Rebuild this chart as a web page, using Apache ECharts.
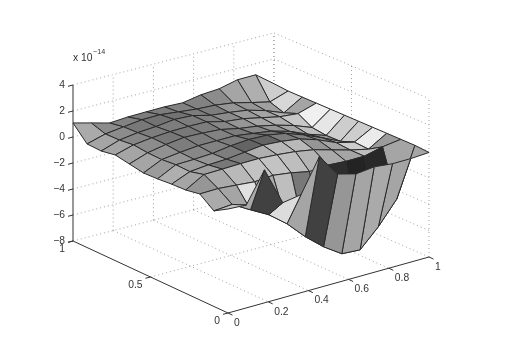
<!DOCTYPE html>
<html><head><meta charset="utf-8">
<style>html,body{margin:0;padding:0;background:#fff}#c{width:506px;height:349px}</style>
<script src="https://cdn.jsdelivr.net/npm/echarts@6/dist/echarts.min.js"></script></head>
<body><div id="c"></div>
<script>
const xTicks=[0,0.2,0.4,0.6,0.8,1];
const yTicks=[0,0.5,1];
const zTicks=[-8,-6,-4,-2,0,2,4];
const zRows=[
[1.08,.72,.35,.45,.48,.5,.45,.7,.8,1.13,1.15,.1],
[-.03,.37,.55,.73,.75,.6,.45,.38,.19,-.15,-.47,0],
[-.07,.4,.6,.7,.87,.8,.45,.3,.1,-.3,-.84,0],
[.13,.53,.7,.8,.83,.8,.45,.3,0,-.3,-.43,0],
[-.06,.42,.68,.85,.8,.7,.4,.2,-.1,-.5,-1.03,0],
[-.25,.4,.57,.7,.7,.7,.5,.3,-.1,-.7,-1.17,0],
[-.2,.5,.53,.6,.8,.9,.85,.6,.1,-.5,-1.15,0],
[-.1,.47,.6,.65,.8,.95,.85,.65,.2,-.4,-.75,0],
[-.05,.75,.77,.8,.8,.7,.55,.3,-.1,-.5,-.82,0],
[.15,.17,.04,-.1,0,-.2,-.5,-.4,-.5,-.5,-.18,0],
[-.65,-.55,-1.36,-2.13,-3.22,-4.6,-5.76,-6.68,-6.77,-5.4,-3.7,0],
[0,-.1,2.2,-.72,-.5,2,.27,-.12,.02,-.14,-.15,-.08]
];
const shades=[
[170,140,130,125,125,130,130,140,165,175,205],
[165,140,120,115,115,125,125,150,150,160,215],
[165,135,125,125,125,130,140,155,165,175,165],
[165,140,120,120,125,135,150,165,175,200,240],
[165,145,125,125,130,125,135,150,165,190,230],
[155,150,135,130,125,115,115,125,135,150,205],
[175,155,150,125,100,100,125,130,140,175,205],
[165,160,120,125,175,185,185,150,165,205,235],
[150,170,185,195,195,190,180,170,165,190,155],
[170,165,225,170,190,120,185,45,35,40,165],
[195,170,65,220,165,65,150,165,170,165,165]
];
const n=zRows.length-1;

// axis box as projected on the page (orthographic view with slight skew)
const P={ax:73,bx:228,cx:429,dx:274, ay:241,by:313,cy:257,dy:189, s0:13,s1:13.2};
function proj(X,Y,Z){
  const u=X,v=1-Y;
  const px=P.ax+(P.dx-P.ax)*u+(P.bx-P.ax)*v;
  const base=P.ay*(1-u)*(1-v)+P.dy*u*(1-v)+P.by*(1-u)*v+P.cy*u*v;
  const s=P.s0+(P.s1-P.s0)*u*v;
  return [px,base-s*(Z+8)];
}
const cellData=[];
for(let k=0;k<n;k++)for(let i=n-1;i>=0;i--)cellData.push([k,i]);
function vtx(k,i){return proj(i/n,1-k/n,zRows[k][i]);}

const lines=[]; // [[X,Y,Z],[X,Y,Z],kind]
const zMin=-8,zMax=4;
zTicks.forEach(z=>{lines.push([[0,1,z],[1,1,z],'d']);lines.push([[1,1,z],[1,0,z],'d']);});
xTicks.forEach(x=>{ if(x>0)lines.push([[x,1,zMin],[x,1,zMax],'d']); if(x>0&&x<1)lines.push([[x,1,zMin],[x,0,zMin],'d']);});
yTicks.forEach(y=>{ lines.push([[1,y,zMin],[1,y,zMax],'d']); if(y>0&&y<1)lines.push([[0,y,zMin],[1,y,zMin],'d']);});
lines.push([[0,1,zMin],[0,1,zMax],'a']);
lines.push([[0,1,zMin],[0,0,zMin],'a']);
lines.push([[0,0,zMin],[1,0,zMin],'a']);

const fmt=v=>String(v).replace('-','\u2212');
const labels=[];
zTicks.forEach(z=>labels.push([0,1,z,-8,0,'right',fmt(z),[-5,1.3]]));
xTicks.forEach(x=>labels.push([x,0,zMin,6,10,'left',fmt(x),[4.5,2.1]]));
yTicks.forEach(y=>labels.push([0,y,zMin,-8,8.5,'right',fmt(y),[-5,1.3]]));

const chart=echarts.init(document.getElementById('c'),null,{renderer:'canvas'});
const FONT='"Liberation Sans",Arial,sans-serif';
chart.setOption({
  animation:false,backgroundColor:'#fff',
  grid:{left:0,right:0,top:0,bottom:0},
  xAxis:{type:'value',min:0,max:506,show:false},
  yAxis:{type:'value',min:0,max:349,inverse:true,show:false},
  series:[
   {type:'custom',coordinateSystem:'cartesian2d',clip:false,silent:true,z:1,data:lines.map((l,i)=>[i]),
    renderItem(p,api){const l=lines[p.dataIndex];const a=api.coord(proj(...l[0])),b=api.coord(proj(...l[1]));
      return {type:'line',shape:{x1:a[0],y1:a[1],x2:b[0],y2:b[1]},
        style:l[2]==='d'?{stroke:'#8a8a8a',lineWidth:0.8,lineDash:[1,3]}:{stroke:'#333',lineWidth:1}};}},
   {type:'custom',coordinateSystem:'cartesian2d',clip:false,silent:true,z:2,data:cellData,
    renderItem(p,api){const k=api.value(0),i=api.value(1);
      const pts=[vtx(k,i),vtx(k,i+1),vtx(k+1,i+1),vtx(k+1,i)].map(q=>api.coord(q));
      const g=shades[k][i];
      return {type:'polygon',shape:{points:pts},style:{fill:`rgb(${g},${g},${g})`,stroke:'#2a2a2a',lineWidth:1,lineJoin:'round'}};}},
   {type:'custom',coordinateSystem:'cartesian2d',clip:false,silent:true,z:3,data:labels.map((l,i)=>[i]),
    renderItem(p,api){const l=labels[p.dataIndex];const a=api.coord(proj(l[0],l[1],l[2]));
      return {type:'group',children:[
        {type:'line',shape:{x1:a[0],y1:a[1],x2:a[0]+l[7][0],y2:a[1]+l[7][1]},style:{stroke:'#333',lineWidth:1}},
        {type:'text',x:a[0]+l[3],y:a[1]+l[4],style:{text:l[6],fill:'#333',font:'10.3px '+FONT,textAlign:l[5],textVerticalAlign:'middle'}}
      ]};}}
  ],
  graphic:[
    {type:'text',left:73,top:53,silent:true,style:{text:'x 10',fill:'#333',font:'10.3px '+FONT}},
    {type:'text',left:93,top:49,silent:true,style:{text:'\u221214',fill:'#333',font:'7.2px '+FONT}}
  ]
});
</script></body></html>
